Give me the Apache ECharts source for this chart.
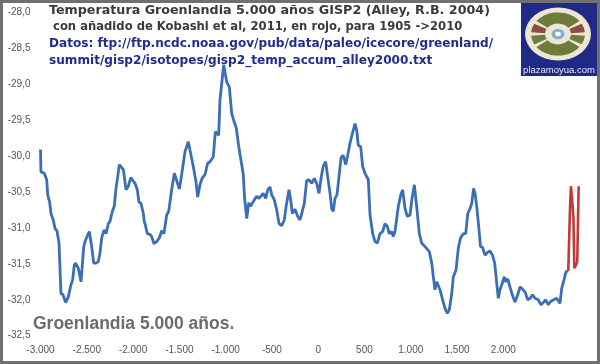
<!DOCTYPE html>
<html><head><meta charset="utf-8">
<script src="https://cdn.jsdelivr.net/npm/echarts@6/dist/echarts.min.js"></script>
<style>html,body{margin:0;padding:0;background:#fff}#c{width:600px;height:364px}</style>
</head><body><div id="c"></div>
<script>
// GISP2 (Alley 2004) temperature (x in axis units of the picture)
const blueYears=[-3000,-2995,-2959,-2933,-2922,-2901,-2887,-2862,-2843,-2822,-2800,-2779,-2757,-2728,-2700,-2670,-2652,-2635,-2620,-2592,-2562,-2533,-2519,-2494,-2473,-2447,-2425,-2400,-2376,-2357,-2339,-2314,-2292,-2267,-2249,-2224,-2203,-2184,-2166,-2149,-2130,-2105,-2076,-2051,-2025,-2004,-1979,-1954,-1936,-1914,-1889,-1879,-1871,-1846,-1817,-1799,-1774,-1745,-1716,-1691,-1666,-1637,-1615,-1583,-1554,-1536,-1500,-1475,-1439,-1403,-1385,-1349,-1320,-1302,-1277,-1255,-1223,-1194,-1169,-1133,-1111,-1090,-1075,-1061,-1042,-1021,-988,-960,-934,-909,-885,-858,-834,-809,-796,-772,-750,-731,-710,-690,-664,-639,-618,-593,-567,-545,-520,-502,-474,-448,-423,-394,-366,-344,-315,-294,-280,-250,-221,-196,-172,-150,-124,-99,-70,-42,-16,9,31,55,81,103,128,146,163,182,203,225,247,271,297,319,344,371,398,416,433,459,481,506,542,560,589,614,639,668,697,722,747,768,794,811,830,848,866,892,913,938,963,992,1014,1039,1064,1093,1118,1154,1201,1227,1244,1262,1281,1302,1316,1345,1370,1395,1417,1443,1460,1489,1514,1538,1568,1594,1616,1641,1659,1679,1695,1713,1738,1754,1776,1802,1831,1856,1883,1907,1929,1946,1964,1989,2011,2026,2048,2072,2097,2126,2156,2181,2205,2235,2264,2289,2316,2343,2378,2407,2432,2458,2486,2505,2530,2551,2577,2594,2613,2631,2659,2677,2702];
const blueTemps=[-29.91,-30.22,-30.24,-30.33,-30.54,-30.64,-30.80,-30.89,-31.01,-31.04,-31.21,-31.91,-31.93,-32.04,-31.96,-31.79,-31.72,-31.52,-31.49,-31.56,-31.75,-31.26,-31.19,-31.11,-31.05,-31.26,-31.49,-31.49,-31.47,-31.35,-31.14,-31.03,-31.08,-30.94,-30.91,-30.77,-30.70,-30.45,-30.29,-30.12,-30.14,-30.19,-30.47,-30.42,-30.30,-30.30,-30.38,-30.47,-30.64,-30.66,-30.80,-30.91,-30.94,-31.08,-31.09,-31.12,-31.22,-31.19,-31.14,-31.04,-31.08,-30.82,-30.77,-30.47,-30.24,-30.22,-30.46,-30.26,-29.94,-29.80,-29.92,-30.15,-30.36,-30.57,-30.40,-30.31,-30.26,-30.10,-30.08,-30.01,-29.66,-29.64,-29.71,-29.22,-28.99,-28.73,-28.97,-29.04,-29.41,-29.52,-29.61,-29.87,-30.06,-30.26,-30.57,-30.87,-30.65,-30.70,-30.68,-30.61,-30.56,-30.59,-30.59,-30.52,-30.59,-30.47,-30.43,-30.54,-30.61,-30.75,-30.94,-30.97,-30.89,-30.68,-30.47,-30.64,-30.80,-30.74,-30.84,-30.89,-30.77,-30.66,-30.34,-30.33,-30.38,-30.31,-30.38,-30.52,-30.31,-30.14,-30.08,-30.29,-30.52,-30.73,-30.77,-30.59,-30.54,-30.29,-30.02,-29.99,-30.12,-29.99,-29.82,-29.68,-29.55,-29.64,-29.85,-29.87,-30.15,-30.24,-30.33,-30.82,-31.08,-31.19,-31.21,-31.08,-31.05,-30.94,-30.98,-31.08,-31.05,-31.12,-31.05,-31.05,-30.70,-30.54,-30.47,-30.73,-30.84,-30.82,-30.59,-30.40,-30.70,-31.08,-31.21,-31.26,-31.33,-31.49,-31.68,-31.86,-31.75,-31.75,-31.86,-32.00,-32.12,-32.19,-32.14,-31.91,-31.68,-31.59,-31.28,-31.14,-31.08,-31.08,-30.80,-30.73,-30.66,-30.45,-30.52,-30.70,-31.03,-31.26,-31.27,-31.38,-31.34,-31.32,-31.38,-31.49,-31.77,-31.98,-31.86,-31.77,-31.68,-31.75,-31.71,-31.82,-31.93,-32.03,-31.93,-31.82,-31.85,-31.89,-32.00,-31.98,-31.93,-31.98,-32.00,-32.07,-32.04,-32.00,-32.07,-32.03,-32.01,-32.01,-31.98,-32.00,-32.05,-31.84,-31.71,-31.61,-31.60];
// Kobashi et al. 2011 addition (red), 1905 -> 2010
const redYears=[2702,2721,2731,2748,2758,2767,2785,2799,2814];
const redTemps=[-31.60,-30.72,-30.42,-30.68,-30.86,-31.56,-31.52,-31.47,-30.42];
// axis ticks
const yMin=-32.5, yMax=-28.0, yStep=0.5;
const xMin=-3000, xMax=2900, xStep=500, xLastLabel=2000;

const titleLines=['Temperatura Groenlandia 5.000 años GISP2 (Alley, R.B. 2004)',' con añadido de Kobashi et al, 2011, en rojo, para 1905 ->2010'];
const sourceLines=['Datos: ftp://ftp.ncdc.noaa.gov/pub/data/paleo/icecore/greenland/','summit/gisp2/isotopes/gisp2_temp_accum_alley2000.txt'];
const footText='Groenlandia 5.000 años.';
const logoText='plazamoyua.com';

const chart=echarts.init(document.getElementById('c'),null,{renderer:'canvas'});
const fmtX=v=>{ if(v>xLastLabel) return ''; const s=Math.abs(v).toString().replace(/\B(?=(\d{3})+(?!\d))/g,'.'); return (v<0?'-':'')+s; };
const fmtY=v=>v.toFixed(1).replace('.',',');
const ff='"Liberation Sans", Arial, sans-serif';
const fv='"DejaVu Sans", Verdana, sans-serif';

chart.setOption({
  animation:false,
  backgroundColor:'#ffffff',
  grid:{left:40.5,right:13.4,top:12.3,bottom:28.3},
  xAxis:{type:'value',min:xMin,max:xMax,interval:xStep,
    axisLine:{show:false},axisTick:{show:false},splitLine:{show:false},
    axisLabel:{formatter:fmtX,color:'#555',fontFamily:ff,fontSize:10,margin:10,showMaxLabel:false}},
  yAxis:{type:'value',min:yMin,max:yMax,interval:yStep,
    axisLine:{show:false},axisTick:{show:false},splitLine:{show:false},
    axisLabel:{formatter:fmtY,color:'#555',fontFamily:ff,fontSize:10,margin:10}},
  series:[
    {type:'line',data:blueYears.map((x,i)=>[x,blueTemps[i]]),showSymbol:false,
      lineStyle:{color:'#3b6fb5',width:2.8},z:2},
    {type:'line',data:redYears.map((x,i)=>[x,redTemps[i]]),showSymbol:false,
      lineStyle:{color:'#c23a37',width:2.6},z:3}
  ],
  graphic:[
    {type:'text',left:49,top:4,style:{text:titleLines[0],font:'bold 12.7px '+fv,fill:'#3a3a3a'}},
    {type:'text',left:49,top:21,style:{text:titleLines[1],font:'bold 11.6px '+fv,fill:'#3a3a3a'}},
    {type:'text',left:49,top:38,style:{text:sourceLines[0],font:'bold 12.1px '+fv,fill:'#1f2e8c'}},
    {type:'text',left:49,top:55,style:{text:sourceLines[1],font:'bold 12.1px '+fv,fill:'#1f2e8c'}},
    {type:'text',left:33,top:315,style:{text:footText,font:'bold 17.5px '+ff,fill:'#6b6b6b'}},
    {type:'group',left:521,top:3,children:[
      {type:'rect',shape:{x:0,y:0,width:76,height:73},style:{fill:'#1f2a86'}},
      {type:'group',x:37,y:31,scaleY:0.8,children:[
        {type:'circle',shape:{cx:0,cy:0,r:33},style:{fill:'#ece6d2'}},
        {type:'sector',shape:{cx:0,cy:0,r:27,r0:13,startAngle:-2.5,endAngle:-0.65},style:{fill:'#6e7b3b'}},
        {type:'sector',shape:{cx:0,cy:0,r:27,r0:13,startAngle:0.65,endAngle:2.5},style:{fill:'#6e7b3b'}},
        {type:'sector',shape:{cx:0,cy:0,r:27,r0:13,startAngle:-0.5,endAngle:-0.08},style:{fill:'#8a4d3f'}},
        {type:'sector',shape:{cx:0,cy:0,r:27,r0:13,startAngle:0.08,endAngle:0.5},style:{fill:'#6e7b3b'}},
        {type:'sector',shape:{cx:0,cy:0,r:27,r0:13,startAngle:2.64,endAngle:3.06},style:{fill:'#6e7b3b'}},
        {type:'sector',shape:{cx:0,cy:0,r:27,r0:13,startAngle:3.22,endAngle:3.64},style:{fill:'#8a4d3f'}},
        {type:'circle',shape:{cx:0,cy:0,r:6.5},style:{fill:'#7fb2d6'}},
        {type:'circle',shape:{cx:0,cy:0,r:2.8},style:{fill:'#ffffff'}}
      ]},
      {type:'text',x:38,y:67,style:{text:logoText,font:'9.5px '+ff,fill:'#e8e8f4',textAlign:'center',textVerticalAlign:'middle'}}
    ]},
    {type:'rect',shape:{x:1.5,y:1.5,width:597,height:361},style:{fill:'none',stroke:'#707070',lineWidth:3},z:100}
  ]
});
</script></body></html>
